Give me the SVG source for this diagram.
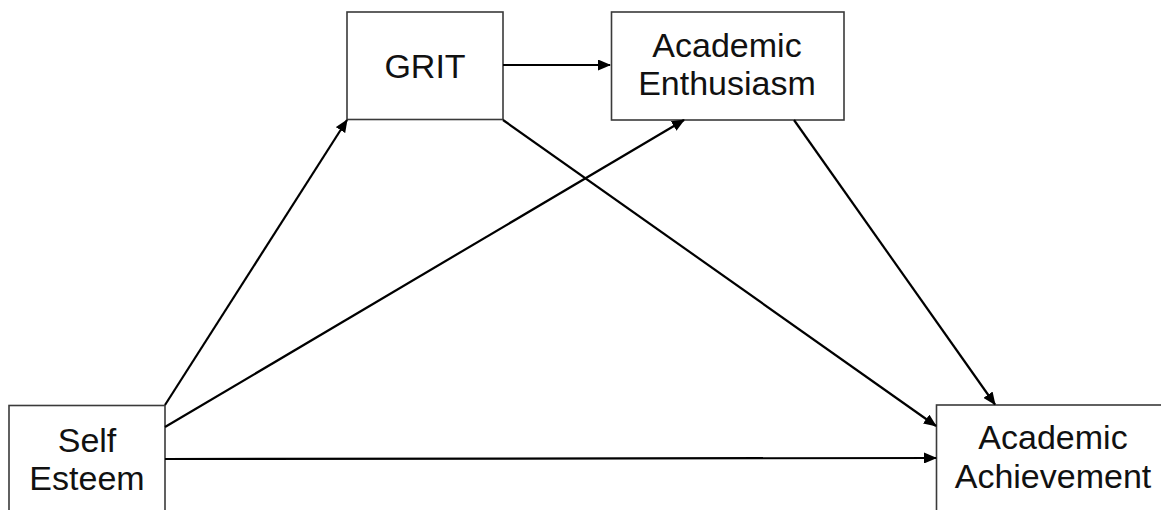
<svg xmlns="http://www.w3.org/2000/svg" width="1161" height="510" viewBox="0 0 1161 510">
<style>
.box{fill:#fff;stroke:#3a3a3a;stroke-width:1.6}
.lbl{font-family:"Liberation Sans",Arial,sans-serif;font-size:34px;fill:#111;text-anchor:middle}
.edge{stroke:#000;stroke-width:2.2;fill:none;marker-end:url(#arr)}
</style>
<defs>
<marker id="arr" markerWidth="13" markerHeight="11" refX="12" refY="5.5" orient="auto" markerUnits="userSpaceOnUse">
<path d="M0,0 L13,5.5 L0,11 z" fill="#000"/>
</marker>
</defs>
<rect width="1161" height="510" fill="#fff"/>
<g id="grit">
<rect class="box" x="347" y="12" width="156" height="107.5"/>
<text class="lbl" x="425" y="78">GRIT</text>
</g>
<g id="enthusiasm">
<rect class="box" x="611.5" y="12" width="232.5" height="108"/>
<text class="lbl" x="727" y="57">Academic</text>
<text class="lbl" x="727" y="95">Enthusiasm</text>
</g>
<g id="selfesteem">
<rect class="box" x="9" y="405.5" width="156" height="120"/>
<text class="lbl" x="87" y="452">Self</text>
<text class="lbl" x="87" y="490">Esteem</text>
</g>
<g id="achievement">
<rect class="box" x="936.5" y="405" width="260" height="120"/>
<text class="lbl" x="1053" y="449">Academic</text>
<text class="lbl" x="1053" y="488">Achievement</text>
</g>
<g id="connectors">
<line class="edge" x1="503" y1="65" x2="610" y2="65"/>
<line class="edge" x1="165" y1="405" x2="347" y2="120"/>
<line class="edge" x1="165" y1="427" x2="684" y2="120"/>
<line class="edge" x1="503" y1="120" x2="936" y2="426"/>
<line class="edge" x1="794" y1="120" x2="995" y2="404.5"/>
<line class="edge" x1="165" y1="459" x2="936" y2="458"/>
</g>
</svg>
